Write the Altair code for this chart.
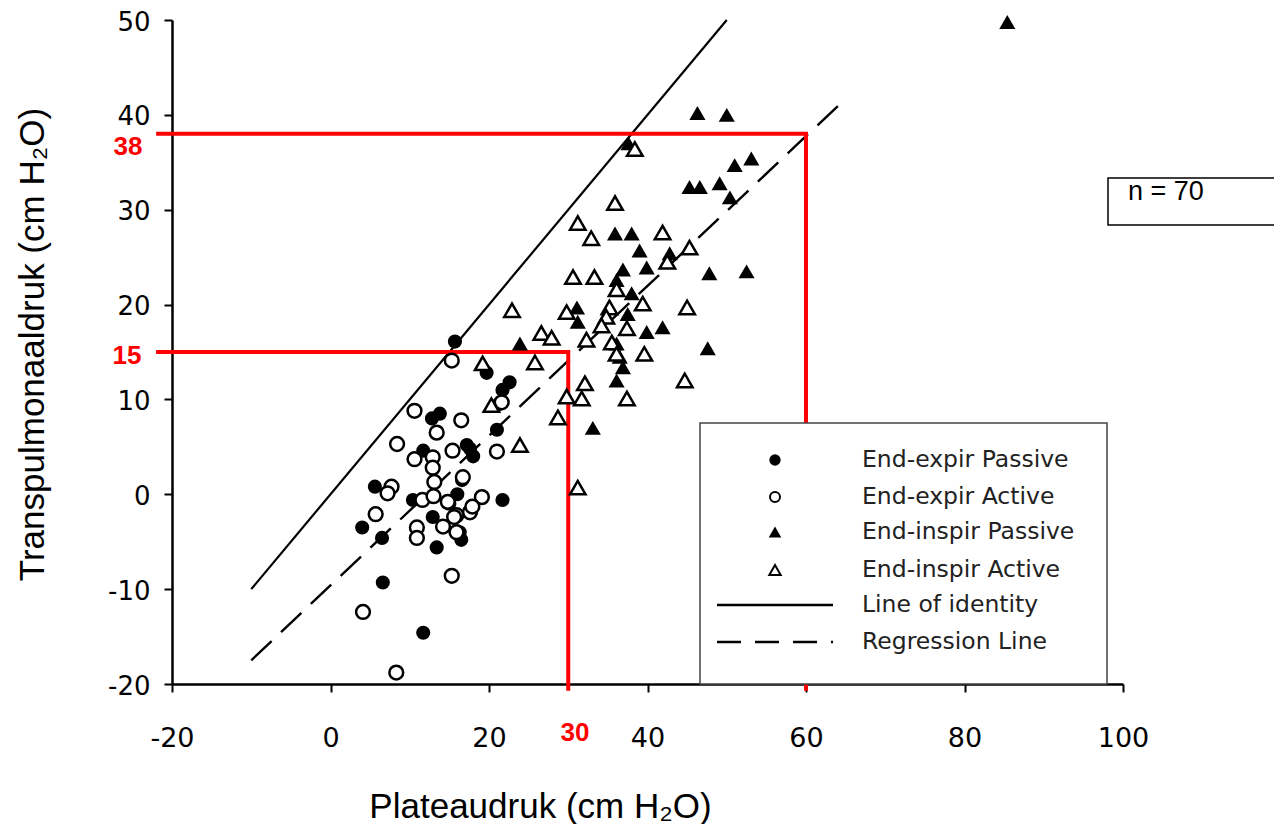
import altair as alt
import pandas as pd

# ---- data (cm H2O) ----
ee_passive_x = [4.0, 5.6, 6.5, 6.6, 11.7, 13.4, 16.5, 21.7, 15.7, 22.6, 21.7, 21.0, 19.7, 13.8, 17.2,
                11.7, 17.6, 16.6, 10.4, 12.9, 16.3, 12.8, 21.2, 16.0, 15.0, 18.0]
ee_passive_y = [-3.5, 0.8, -4.6, -9.3, -14.6, -5.6, -4.8, -0.6, 16.1, 11.8, 11.0, 6.8, 12.8, 8.5, 5.2,
                4.6, 4.8, 1.5, -0.6, -2.4, -4.0, 8.0, 9.5, 0.0, -1.0, 4.0]

ee_active_x = [10.6, 8.4, 7.7, 7.2, 5.7, 4.1, 8.3, 15.3, 15.3, 16.5, 21.0, 21.6, 13.4, 12.9, 15.4, 13.1,
               16.7, 14.8, 19.1, 11.6, 17.6, 10.9, 10.9, 14.2, 15.9, 17.9, 10.6, 12.9, 15.6, 15.9, 13.0]
ee_active_y = [8.8, 5.3, 0.8, 0.1, -2.1, -12.4, -18.8, -8.6, 14.1, 7.8, 4.5, 9.7, 6.5, 3.9, 4.6, 1.3,
               1.8, -0.8, -0.3, -0.6, -1.9, -3.5, -4.6, -3.4, -2.2, -1.3, 3.7, 2.8, -2.4, -4.0, -0.2]

ei_passive_x = [85.4, 46.3, 50.0, 51.0, 53.1, 45.3, 46.6, 49.1, 50.4, 35.9, 38.0, 39.0, 39.9, 42.8, 36.9,
                36.1, 38.0, 47.8, 52.5, 47.6, 41.9, 31.1, 31.2, 23.9, 39.9, 36.1, 36.5, 36.9, 36.1, 33.1,
                37.5, 37.6]
ei_passive_y = [49.8, 40.2, 40.0, 34.7, 35.4, 32.4, 32.4, 32.8, 31.3, 27.5, 27.5, 25.7, 23.9, 25.4, 23.7,
                22.6, 21.2, 23.3, 23.5, 15.4, 17.6, 19.7, 18.2, 15.9, 17.1, 15.9, 14.5, 13.4, 12.0, 7.0,
                19.0, 37.0]

ei_active_x = [38.4, 35.9, 41.9, 31.2, 32.9, 45.3, 42.5, 30.6, 33.3, 36.1, 39.4, 22.9, 29.8, 35.2,
               34.8, 34.2, 26.6, 27.9, 32.3, 37.4, 35.5, 36.1, 39.6, 45.0, 44.7, 25.8, 19.2, 32.1, 31.7,
               29.8, 37.4, 28.7, 20.3, 23.9, 31.2]
ei_active_y = [36.4, 30.7, 27.6, 28.6, 27.0, 26.0, 24.5, 22.9, 22.9, 21.6, 20.1, 19.4, 19.2, 19.7,
               18.7, 17.8, 17.0, 16.5, 16.3, 17.5, 16.0, 14.8, 14.8, 19.7, 12.0, 13.9, 13.8, 11.7, 10.1,
               10.3, 10.1, 8.1, 9.4, 5.2, 0.7]

identity_x = [-10, 50]
identity_y = [-10, 50]
regression_x = [-10, 65]
regression_y = [-17.5, 41.7]

# red guide lines (x, y) at 30 -> 15 and 60 -> 38
guide_a_x = [-22, 30, 30]
guide_a_y = [15, 15, -20.7]
guide_b_x = [-22, 60, 60]
guide_b_y = [38, 38, -20.7]

x_ticks = [-20, 0, 20, 40, 60, 80, 100]
y_ticks = [-20, -10, 0, 10, 20, 30, 40, 50]

legend_labels = ["End-expir Passive", "End-expir Active", "End-inspir Passive",
                 "End-inspir Active", "Line of identity", "Regression Line"]

# ---- chart ----
W, H = 951, 664
xs = alt.Scale(domain=[-20, 100], nice=False, zero=False)
ys = alt.Scale(domain=[-20, 50], nice=False, zero=False)

x_axis = alt.Axis(values=x_ticks, title="Plateaudruk (cm H₂O)", grid=False, orient="bottom",
                  labelExpr="'' + datum.value", labelFlush=False,
                  domainColor="black", domainWidth=2.5, tickColor="black", tickWidth=2, tickSize=8,
                  labelFont="DejaVu Sans", labelFontSize=27, labelColor="black", labelPadding=33,
                  titleFont="Liberation Sans", titleFontSize=35, titleFontWeight="normal",
                  titleColor="black", titleX=368, titleY=122, titleBaseline="middle",
                  titleAlign="center")
y_axis = alt.Axis(values=y_ticks, title="Transpulmonaaldruk (cm H₂O)", grid=False, orient="left",
                  labelExpr="'' + datum.value", labelFlush=False, labelOffset=2,
                  domainColor="black", domainWidth=2.5, tickColor="black", tickWidth=2, tickSize=8,
                  labelFont="DejaVu Sans", labelFontSize=26, labelColor="black", labelPadding=14,
                  titleFont="Liberation Sans", titleFontSize=35, titleFontWeight="normal",
                  titleColor="black", titleX=-140, titleY=324, titleBaseline="middle",
                  titleAlign="center", titleAngle=270)


def pts(xv, yv):
    return pd.DataFrame({"x": xv, "y": yv, "i": list(range(len(xv)))})


def enc(c):
    return c.encode(x=alt.X("x:Q", scale=xs, axis=x_axis), y=alt.Y("y:Q", scale=ys, axis=y_axis))


ident = enc(alt.Chart(pts(identity_x, identity_y)).mark_line(color="black", strokeWidth=2.2))
regr = enc(alt.Chart(pts(regression_x, regression_y)).mark_line(color="black", strokeWidth=2.4,
                                                                  strokeDash=[28, 13]))

sym = dict(strokeWidth=2.5, opacity=1)
c_fill = enc(alt.Chart(pts(ee_passive_x, ee_passive_y)).mark_point(
    shape="circle", filled=True, color="black", size=200, **sym))
c_open = enc(alt.Chart(pts(ee_active_x, ee_active_y)).mark_point(
    shape="circle", filled=True, fill="white", stroke="black", size=190, fillOpacity=1, **sym))
t_fill = enc(alt.Chart(pts(ei_passive_x, ei_passive_y)).mark_point(
    shape="triangle-up", filled=True, color="black", size=260, **sym))
t_open = enc(alt.Chart(pts(ei_active_x, ei_active_y)).mark_point(
    shape="triangle-up", filled=True, fill="white", stroke="black", size=240, fillOpacity=1, **sym))

guide_a = enc(alt.Chart(pts(guide_a_x, guide_a_y)).mark_line(color="red", strokeWidth=4)).encode(
    order="i:O")
guide_b = enc(alt.Chart(pts(guide_b_x, guide_b_y)).mark_line(color="red", strokeWidth=4)).encode(
    order="i:O")

one = pd.DataFrame({"a": [0]})


def red_label(txt, px, py):
    return alt.Chart(one).mark_text(color="red", font="Liberation Sans", fontWeight="bold",
                                    fontSize=26, align="center", baseline="middle").encode(
        x=alt.value(px), y=alt.value(py), text=alt.value(txt))


labels = [red_label("38", -44, 127), red_label("15", -45, 336), red_label("30", 403, 713)]

# legend box
leg_box = alt.Chart(one).mark_rect(fill="white", stroke="#444", strokeWidth=1.5).encode(
    x=alt.value(528), x2=alt.value(935), y=alt.value(403), y2=alt.value(664))
leg_rows_y = [440, 477, 512, 550, 585, 622]
leg_items = []
leg_items.append(alt.Chart(one).mark_point(shape="circle", filled=True, color="black", size=130,
                                           opacity=1).encode(x=alt.value(603), y=alt.value(leg_rows_y[0])))
leg_items.append(alt.Chart(one).mark_point(shape="circle", filled=True, fill="white", stroke="black",
                                           strokeWidth=2, size=100, opacity=1).encode(
    x=alt.value(603), y=alt.value(leg_rows_y[1])))
leg_items.append(alt.Chart(one).mark_point(shape="triangle-up", filled=True, color="black", size=160,
                                           opacity=1).encode(x=alt.value(603), y=alt.value(leg_rows_y[2])))
leg_items.append(alt.Chart(one).mark_point(shape="triangle-up", filled=True, fill="white", stroke="black",
                                           strokeWidth=2, size=130, opacity=1).encode(
    x=alt.value(603), y=alt.value(leg_rows_y[3])))
leg_items.append(alt.Chart(one).mark_rule(color="black", strokeWidth=2.4).encode(
    x=alt.value(545), x2=alt.value(661), y=alt.value(leg_rows_y[4])))
leg_items.append(alt.Chart(one).mark_rule(color="black", strokeWidth=2.4, strokeDash=[24, 14]).encode(
    x=alt.value(545), x2=alt.value(661), y=alt.value(leg_rows_y[5])))
for lab, ry in zip(legend_labels, leg_rows_y):
    leg_items.append(alt.Chart(one).mark_text(font="DejaVu Sans", fontSize=23.5, color="#222",
                                              align="left", baseline="middle").encode(
        x=alt.value(690), y=alt.value(ry), text=alt.value(lab)))

# n = 70 box
n_box = alt.Chart(one).mark_rect(fill="white", stroke="black", strokeWidth=1.5).encode(
    x=alt.value(936), x2=alt.value(1200), y=alt.value(158), y2=alt.value(205))
n_text = alt.Chart(one).mark_text(font="Liberation Sans", fontSize=27, color="black", align="left",
                                  baseline="middle").encode(
    x=alt.value(956), y=alt.value(172), text=alt.value("n = 70"))

chart = alt.layer(
    ident, regr, guide_a, guide_b, c_fill, c_open, t_fill, t_open,
    leg_box, *leg_items, n_box, n_text, *labels
).properties(
    width=W, height=H, autosize="none",
    padding={"left": 164, "top": 12, "right": 151, "bottom": 140},
    background="white"
).configure_view(stroke=None)

chart.save("out.html", embed_options={"renderer": "svg", "actions": False})
